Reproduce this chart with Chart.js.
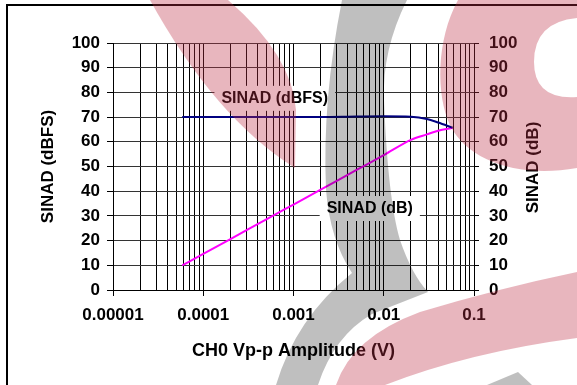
<!DOCTYPE html>
<html>
<head>
<meta charset="utf-8">
<script src="https://cdn.jsdelivr.net/npm/chart.js@4.4.0/dist/chart.umd.min.js"></script>
<style>
  html, body { margin: 0; padding: 0; background: #fff; }
  #wrap { width: 577px; height: 385px; position: relative; }
</style>
</head>
<body>
<div id="wrap"><canvas id="sinad-chart"></canvas></div>
<script>
// CH0 input amplitude sweep (V p-p)
const amplitudes = [0.0000585, 0.0001, 0.0002, 0.0005, 0.001, 0.002, 0.005, 0.01, 0.02, 0.03, 0.04, 0.058];
const sinadDbfs = [70, 70, 70, 70, 70, 70, 70.2, 70.3, 70.1, 69.2, 67.8, 65.7];
const sinadDb = [10, 14.6, 20.6, 28.6, 34.6, 40.6, 48.6, 54.6, 60.8, 63, 64.5, 65.7];

const seriesNames = ["SINAD (dBFS)", "SINAD (dB)"];
const decadeTicks = [0.00001, 0.0001, 0.001, 0.01, 0.1];
const decadeLabels = ["0.00001", "0.0001", "0.001", "0.01", "0.1"];
const yTicks = [0, 10, 20, 30, 40, 50, 60, 70, 80, 90, 100];

// where the in-plot series labels sit (data units)
const labelAnchors = [[0.00062, 77.8], [0.0070, 33.2]];

const FONT = '"Liberation Sans", Arial, sans-serif';
Chart.defaults.font.family = FONT;
Chart.defaults.font.size = 17;
Chart.defaults.font.weight = "bold";
Chart.defaults.color = "#000";

function isDecade(v) {
    return decadeTicks.some(d => Math.abs(d - v) / d < 1e-6);
}

// all 1..9 steps of each decade, for the log grid
function logTicks() {
    const out = [];
    for (let i = 0; i < decadeTicks.length - 1; i++) {
        for (let m = 1; m <= 9; m++) out.push({ value: m * decadeTicks[i] });
    }
    out.push({ value: decadeTicks[decadeTicks.length - 1] });
    return out;
}

const labelsPlugin = {
    id: "seriesLabels",
    afterDatasetsDraw(chart) {
        const ctx = chart.ctx;
        ctx.save();
        ctx.font = "bold 16px " + FONT;
        ctx.textAlign = "center";
        ctx.textBaseline = "middle";
        seriesNames.forEach((name, i) => {
            const x = chart.scales.x.getPixelForValue(labelAnchors[i][0]);
            const y = chart.scales.y.getPixelForValue(labelAnchors[i][1]);
            const w = ctx.measureText(name).width;
            ctx.fillStyle = "#fff";
            ctx.fillRect(x - w / 2 - 7, y - 12, w + 14, 25);
            ctx.fillStyle = "#000";
            ctx.fillText(name, x, y + 1);
        });
        ctx.restore();
    }
};

const decorPlugin = {
    id: "decor",
    beforeDraw(chart) {
        const ctx = chart.ctx;
        ctx.save();
        ctx.fillStyle = "#fff";
        ctx.fillRect(0, 0, chart.width, chart.height);
        ctx.restore();
    },
    afterDraw(chart) {
        const ctx = chart.ctx;
        const area = chart.chartArea;
        ctx.save();
        // right axis title, reads bottom to top
        ctx.font = "bold 17px " + FONT;
        ctx.fillStyle = "#000";
        ctx.textAlign = "center";
        ctx.textBaseline = "middle";
        ctx.translate(533, (area.top + area.bottom) / 2 + 1);
        ctx.rotate(-Math.PI / 2);
        ctx.fillText(seriesNames[1], 0, 0);
        ctx.restore();

        ctx.save();
        // outer frame
        ctx.fillStyle = "#000";
        ctx.fillRect(6, 4, chart.width - 6, 2);
        ctx.fillRect(6, 4, 2, chart.height - 4);

        // background logo wash
        ctx.fillStyle = "rgba(189,46,69,0.35)";
        ctx.beginPath();
        ctx.moveTo(150, 0);
        ctx.lineTo(228, 0);
        ctx.quadraticCurveTo(292, 55, 296, 110);
        ctx.lineTo(295, 168);
        ctx.quadraticCurveTo(215, 118, 150, 0);
        ctx.closePath();
        ctx.fill();

        ctx.beginPath();
        ctx.moveTo(458, 0);
        ctx.lineTo(577, 0);
        ctx.lineTo(577, 18);
        ctx.quadraticCurveTo(534, 22, 534, 62);
        ctx.quadraticCurveTo(534, 100, 577, 97);
        ctx.lineTo(577, 168);
        ctx.bezierCurveTo(520, 178, 468, 162, 450, 125);
        ctx.bezierCurveTo(436, 95, 436, 40, 458, 0);
        ctx.closePath();
        ctx.fill();

        ctx.beginPath();
        ctx.moveTo(336, 385);
        ctx.quadraticCurveTo(352, 337, 420, 312);
        ctx.quadraticCurveTo(500, 288, 577, 272);
        ctx.lineTo(577, 338);
        ctx.quadraticCurveTo(470, 352, 385, 385);
        ctx.closePath();
        ctx.fill();

        ctx.fillStyle = "rgba(0,0,0,0.25)";
        ctx.beginPath();
        ctx.moveTo(342, 0);
        ctx.lineTo(407, 0);
        ctx.quadraticCurveTo(382, 50, 384, 100);
        ctx.quadraticCurveTo(388, 200, 400, 240);
        ctx.quadraticCurveTo(412, 275, 428, 292);
        ctx.lineTo(372, 314);
        ctx.quadraticCurveTo(334, 336, 318, 385);
        ctx.lineTo(276, 385);
        ctx.quadraticCurveTo(296, 318, 352, 273);
        ctx.quadraticCurveTo(330, 240, 326, 190);
        ctx.quadraticCurveTo(322, 100, 342, 0);
        ctx.closePath();
        ctx.fill();

        ctx.beginPath();
        ctx.moveTo(487, 385);
        ctx.lineTo(518, 372);
        ctx.lineTo(532, 385);
        ctx.closePath();
        ctx.fill();
        ctx.restore();
    }
};

new Chart(document.getElementById("sinad-chart"), {
    type: "line",
    data: {
        datasets: [
            {
                label: seriesNames[0],
                data: amplitudes.map((a, i) => ({ x: a, y: sinadDbfs[i] })),
                borderColor: "#000080",
                borderWidth: 2,
                pointRadius: 0,
                cubicInterpolationMode: "monotone",
                yAxisID: "y"
            },
            {
                label: seriesNames[1],
                data: amplitudes.map((a, i) => ({ x: a, y: sinadDb[i] })),
                borderColor: "#ff00ff",
                borderWidth: 2,
                pointRadius: 0,
                cubicInterpolationMode: "monotone",
                yAxisID: "y2"
            }
        ]
    },
    options: {
        responsive: true,
        maintainAspectRatio: false,
        animation: false,
        events: [],
        layout: { padding: { top: 43, left: 0, right: 0, bottom: 0 } },
        plugins: {
            legend: { display: false },
            tooltip: { enabled: false }
        },
        scales: {
            x: {
                type: "logarithmic",
                min: decadeTicks[0],
                max: decadeTicks[decadeTicks.length - 1],
                afterBuildTicks: s => { s.ticks = logTicks(); },
                afterFit: s => { s.height = 95; },
                ticks: {
                    autoSkip: false,
                    maxRotation: 0,
                    minRotation: 0,
                    padding: 9,
                    callback: v => {
                        const i = decadeTicks.findIndex(d => Math.abs(d - v) / d < 1e-6);
                        return i >= 0 ? decadeLabels[i] : "";
                    }
                },
                grid: {
                    color: "#000",
                    lineWidth: 1,
                    tickLength: 6,
                    tickColor: c => (c.tick && isDecade(c.tick.value)) ? "#000" : "rgba(0,0,0,0)"
                },
                border: { color: "#000" },
                title: {
                    display: true,
                    text: "CH0 Vp-p Amplitude (V)",
                    font: { size: 18, weight: "bold" },
                    padding: { top: 0, bottom: 23 }
                }
            },
            y: {
                position: "left",
                min: 0,
                max: 100,
                afterBuildTicks: s => { s.ticks = yTicks.map(v => ({ value: v })); },
                afterFit: s => { s.width = 113; },
                ticks: { padding: 7 },
                grid: { color: "#333", tickColor: "#000", tickLength: 6 },
                border: { color: "#000" },
                title: {
                    display: true,
                    text: seriesNames[0],
                    font: { size: 17, weight: "bold" },
                    padding: { top: 38, bottom: 0 }
                }
            },
            y2: {
                position: "right",
                min: 0,
                max: 100,
                afterBuildTicks: s => { s.ticks = yTicks.map(v => ({ value: v })); },
                afterFit: s => { s.width = 103; },
                ticks: { padding: 10 },
                grid: { drawOnChartArea: false, tickColor: "#000", tickLength: 5 },
                border: { color: "#000" },
                title: { display: false }
            }
        }
    },
    plugins: [labelsPlugin, decorPlugin]
});
</script>
</body>
</html>
